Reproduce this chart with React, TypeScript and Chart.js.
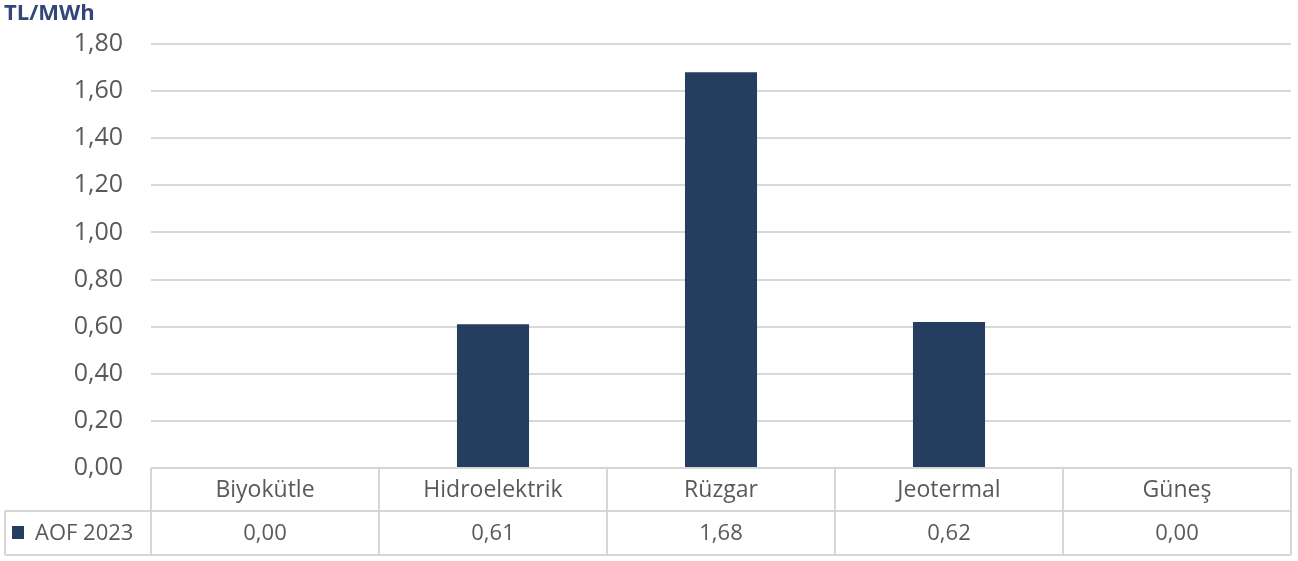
import React, { useEffect, useRef } from "react";
import { Chart, registerables } from "chart.js";

Chart.register(...registerables);

const categories = ["Biyokütle", "Hidroelektrik", "Rüzgar", "Jeotermal", "Güneş"];
const seriesName = "AOF 2023";
const values = [0.0, 0.61, 1.68, 0.62, 0.0];
const unitLabel = "TL/MWh";
const barColor = "#253D5E";
const fmt = (v: number) => v.toFixed(2).replace(".", ",");

export default function App() {
  const ref = useRef<HTMLCanvasElement | null>(null);
  useEffect(() => {
    document.body.style.margin = "0";
    const canvas = ref.current!;
    const tablePlugin = {
      id: "tablePlugin",
      afterDraw(chart: any) {
        const ctx = chart.ctx;
        const area = chart.chartArea;
        const x = chart.scales.x;
        const top = area.bottom;
        const mid = 511;
        const bottom = 555;
        const left = 5;
        ctx.save();
        ctx.strokeStyle = "#D6D6D6";
        ctx.lineWidth = 2;
        ctx.beginPath();
        ctx.moveTo(area.left, top);
        ctx.lineTo(area.right, top);
        ctx.moveTo(left, mid);
        ctx.lineTo(area.right, mid);
        ctx.moveTo(left, bottom);
        ctx.lineTo(area.right, bottom);
        ctx.moveTo(left, mid);
        ctx.lineTo(left, bottom);
        const n = categories.length;
        const w = (area.right - area.left) / n;
        for (let i = 0; i <= n; i++) {
          const xx = area.left + i * w;
          ctx.moveTo(xx, top);
          ctx.lineTo(xx, bottom);
        }
        ctx.stroke();
        ctx.fillStyle = "#595959";
        ctx.textAlign = "center";
        ctx.textBaseline = "middle";
        categories.forEach((c, i) => {
          const cx = x.getPixelForValue(i);
          ctx.font = "23px 'Open Sans', sans-serif";
          ctx.fillText(c, cx, (top + mid) / 2 + 1);
          ctx.font = "22px 'Open Sans', sans-serif";
          ctx.fillText(fmt(values[i]), cx, (mid + bottom) / 2 + 1);
        });
        ctx.fillStyle = barColor;
        ctx.fillRect(12, 526, 12, 13);
        ctx.fillStyle = "#595959";
        ctx.textAlign = "left";
        ctx.font = "22px 'Open Sans', sans-serif";
        ctx.fillText(seriesName, 35, (mid + bottom) / 2 + 1);
        ctx.fillStyle = "#33467A";
        ctx.font = "bold 22px 'Open Sans', sans-serif";
        ctx.textBaseline = "middle";
        ctx.fillText(unitLabel, 4, 14);
        ctx.restore();
      },
    };
    const chart = new Chart(canvas, {
      type: "bar",
      data: {
        labels: categories,
        datasets: [
          {
            label: seriesName,
            data: values,
            backgroundColor: barColor,
            categoryPercentage: 1,
            barPercentage: 0.316,
          },
        ],
      },
      options: {
        animation: false,
        responsive: false,
        maintainAspectRatio: false,
        layout: { padding: { top: 44, right: 7, bottom: 93, left: 0 } },
        plugins: { legend: { display: false }, tooltip: { enabled: false } },
        scales: {
          x: { display: false },
          y: {
            min: 0,
            max: 1.8,
            ticks: {
              stepSize: 0.2,
              color: "#595959",
              font: { size: 25, family: "'Open Sans', sans-serif" },
              padding: 28,
              callback: (v: any) => fmt(Number(v)),
            },
            grid: { color: "#D9D9D9", lineWidth: 2, drawTicks: false },
            border: { display: false },
            afterFit: (s: any) => {
              s.width = 151;
            },
          },
        },
      },
      plugins: [tablePlugin],
    });
    return () => chart.destroy();
  }, []);
  return <canvas ref={ref} width={1298} height={561} style={{ display: "block" }} />;
}
